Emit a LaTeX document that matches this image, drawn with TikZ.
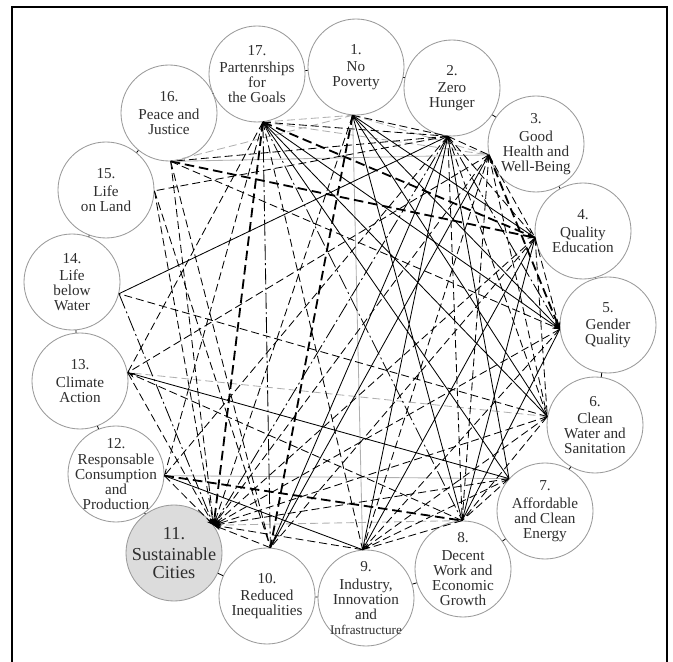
\documentclass[tikz,border=0pt]{standalone}
\usepackage{fontspec}
\setmainfont{Liberation Serif}
\usepackage{tikz}
\usetikzlibrary{arrows.meta}
\definecolor{ringgray}{HTML}{9A9A9A}
\definecolor{cityfill}{HTML}{DCDCDC}
\definecolor{linkgray}{HTML}{B0B0B0}
\definecolor{labelink}{HTML}{2E2E2E}

\begin{document}
\begin{tikzpicture}[x=0.25mm, y=-0.25mm,
  goal/.style={circle, draw=ringgray, line width=0.6pt, fill=white, minimum size=24mm, inner sep=0pt},
  city/.style={goal, fill=cityfill},
  goaltext/.style={align=center, text=labelink, font=\fontsize{10.8}{10.6}\selectfont},
  citytext/.style={align=center, text=labelink, font=\fontsize{13}{12.6}\selectfont},
  ring/.style={draw=black, line width=0.6pt},
  solidlink/.style={line width=0.6pt},
  dashlink/.style={line width=0.6pt, dash pattern=on 2mm off 1mm},
  boldlink/.style={line width=1.3pt, dash pattern=on 2.4mm off 1.2mm},
  longlink/.style={line width=0.6pt, dash pattern=on 4mm off 0.8mm on 0.5mm off 0.8mm},
  greylink/.style={line width=0.6pt, draw=linkgray},
  greydash/.style={line width=0.6pt, draw=linkgray, dash pattern=on 2mm off 1mm},
  arrowin/.style={-{Stealth[length=1.8mm, width=1.2mm]}}
]
\useasboundingbox (0,0) rectangle (673,662);
\draw[line width=2pt] (12,680) -- (12,7) -- (667,7) -- (667,680);

\node[goal, label={[goaltext]center:{1.\\[2pt]No\\Poverty}}] (g1) at (356,67) {};
\node[goal, label={[goaltext]center:{2.\\[2pt]Zero\\Hunger}}] (g2) at (452,88) {};
\node[goal, label={[goaltext]center:{3.\\[2pt]Good\\Health and\\Well-Being}}] (g3) at (536,144) {};
\node[goal, label={[goaltext]center:{4.\\[2pt]Quality\\Education}}] (g4) at (583,231) {};
\node[goal, label={[goaltext]center:{5.\\[2pt]Gender\\Quality}}] (g5) at (608,325) {};
\node[goal, label={[goaltext]center:{6.\\[2pt]Clean\\Water and\\Sanitation}}] (g6) at (595,425) {};
\node[goal, label={[goaltext]center:{7.\\[2pt]Affordable\\and Clean\\Energy}}] (g7) at (545,511) {};
\node[goal, label={[goaltext]center:{8.\\[2pt]Decent\\Work and\\Economic\\Growth}}] (g8) at (463,569) {};
\node[goal, label={[goaltext]center:{9.\\[2pt]Industry,\\Innovation\\and\\{\fontsize{9.4}{10.6}\selectfont Infrastructure}}}] (g9) at (366,598) {};
\node[goal, label={[goaltext]center:{10.\\[2pt]Reduced\\Inequalities}}] (g10) at (267,596) {};
\node[city, label={[citytext]center:{11.\\[2pt]Sustainable\\Cities}}] (g11) at (174,553) {};
\node[goal, label={[goaltext]center:{12.\\[1pt]Responsable\\Consumption\\and\\Production}}] (g12) at (116,474) {};
\node[goal, label={[goaltext]center:{13.\\[2pt]Climate\\Action}}] (g13) at (80,381) {};
\node[goal, label={[goaltext]center:{14.\\[2pt]Life\\below\\Water}}] (g14) at (72,282) {};
\node[goal, label={[goaltext]center:{15.\\[2pt]Life\\on Land}}] (g15) at (106,190) {};
\node[goal, label={[goaltext]center:{16.\\[2pt]Peace and\\Justice}}] (g16) at (169,113) {};
\node[goal, label={[goaltext]center:{17.\\[2pt]Partenrships\\for\\the Goals}}] (g17) at (257,74) {};

\draw[ring] (g1) -- (g2) (g2) -- (g3) (g3) -- (g4) (g4) -- (g5) (g5) -- (g6) (g6) -- (g7)
  (g7) -- (g8) (g8) -- (g9) (g9) -- (g10) (g10) -- (g11) (g11) -- (g12) (g12) -- (g13)
  (g13) -- (g14) (g14) -- (g15) (g15) -- (g16) (g16) -- (g17) (g17) -- (g1);

\coordinate (h1) at (g1.266);
\coordinate (h2) at (g2.265);
\coordinate (h3) at (g3.193);
\coordinate (h4) at (g4.188);
\coordinate (h5) at (g5.185);
\coordinate (h6) at (g6.170);
\coordinate (h7) at (g7.138);
\coordinate (h8) at (g8.91);
\coordinate (h9) at (g9.94);
\coordinate (h10) at (g10.86);
\coordinate (h11) at (g11.35);
\coordinate (h12) at (g12.358);
\coordinate (h13) at (g13.10);
\coordinate (h14) at (g14.346);
\coordinate (h15) at (g15.359);
\coordinate (h16) at (g16.272);
\coordinate (h17) at (g17.277);

\draw[greylink] (h1) -- (h9) (h12) -- (h7) (h16) -- (h3);
\draw[greydash] (h17) -- (h1) (h17) -- (h3) (h1) -- (h3) (h16) -- (h1) (h6) -- (h13);
\draw[greydash, arrowin] (h8) -- (h11);

\draw[solidlink] (h17) -- (h6) (h17) -- (h7) (h1) -- (h4) (h1) -- (h6) (h1) -- (h8)
  (h2) -- (h7) (h2) -- (h9) (h2) -- (h10) (h2) -- (h14) (h3) -- (h10) (h4) -- (h8)
  (h4) -- (h9) (h5) -- (h8) (h7) -- (h13) (h12) -- (h9);
\draw[solidlink, arrowin] (h17) -- (h5);
\draw[solidlink, arrowin] (h1) -- (h5);

\draw[dashlink] (h17) -- (h2) (h17) -- (h9) (h17) -- (h12) (h17) -- (h13) (h1) -- (h2)
  (h2) -- (h3) (h2) -- (h4) (h2) -- (h6) (h2) -- (h8) (h2) -- (h12) (h2) -- (h15)
  (h2) -- (h16) (h3) -- (h4) (h3) -- (h6) (h3) -- (h8) (h3) -- (h9) (h3) -- (h13)
  (h4) -- (h6) (h4) -- (h10) (h5) -- (h9) (h6) -- (h14) (h6) -- (h9) (h6) -- (h8)
  (h7) -- (h9) (h7) -- (h8) (h8) -- (h9) (h15) -- (h10) (h16) -- (h10);
\draw[dashlink, arrowin] (h4) -- (h5);
\draw[dashlink, arrowin] (h16) -- (h5);
\draw[dashlink, arrowin] (h8) -- (h13);

\draw[longlink] (h17) -- (h8) (h17) -- (h10) (h2) -- (h5);
\draw[longlink, arrowin] (h14) -- (h11);
\draw[longlink, arrowin] (h2) -- (h11);

\draw[dashlink, arrowin] (h12) -- (h11);
\draw[dashlink, arrowin] (h13) -- (h11);
\draw[dashlink, arrowin] (h15) -- (h11);
\draw[dashlink, arrowin] (h16) -- (h11);
\draw[dashlink, arrowin] (h1) -- (h11);
\draw[dashlink, arrowin] (h3) -- (h11);
\draw[dashlink, arrowin] (h4) -- (h11);
\draw[dashlink, arrowin] (h5) -- (h11);
\draw[dashlink, arrowin] (h6) -- (h11);
\draw[dashlink, arrowin] (h7) -- (h11);
\draw[dashlink, arrowin] (h9) -- (h11);
\draw[dashlink, arrowin] (h10) -- (h11);

\draw[boldlink] (h12) -- (h8) (h1) -- (h10);
\draw[boldlink, arrowin] (h17) -- (h4);
\draw[boldlink, arrowin] (h16) -- (h4);
\draw[boldlink, arrowin] (h3) -- (h5);
\draw[boldlink, arrowin] (h17) -- (h11);
\end{tikzpicture}
\end{document}
